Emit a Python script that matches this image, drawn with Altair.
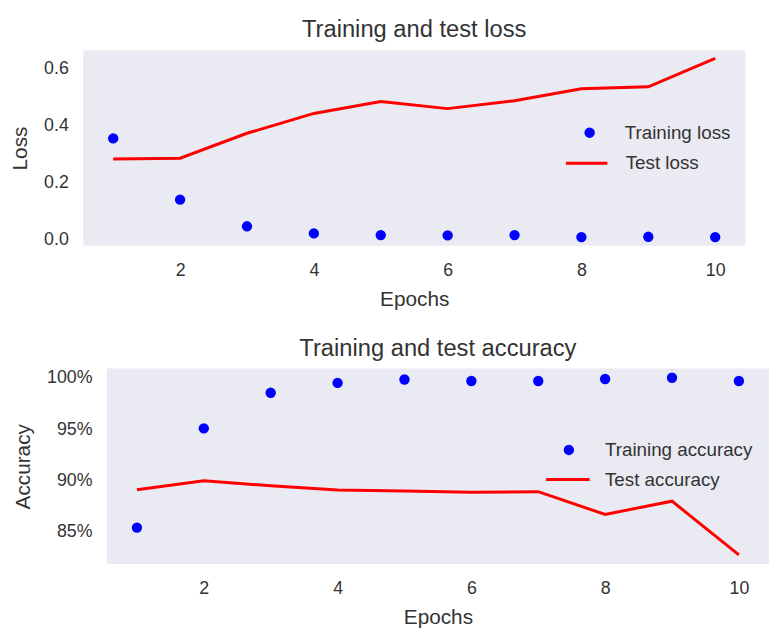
import altair as alt
import pandas as pd

# ---- data ----
epochs = [1, 2, 3, 4, 5, 6, 7, 8, 9, 10]
train_loss = [0.355, 0.139, 0.045, 0.020, 0.014, 0.013, 0.014, 0.007, 0.008, 0.007]
test_loss = [0.282, 0.285, 0.373, 0.443, 0.485, 0.460, 0.488, 0.530, 0.537, 0.637]
train_acc = [85.43, 95.08, 98.54, 99.50, 99.83, 99.69, 99.69, 99.88, 100.0, 99.69]
test_acc = [89.12, 89.98, 89.50, 89.09, 88.99, 88.87, 88.92, 86.71, 88.00, 82.77]
x_ticks = [2, 4, 6, 8, 10]
loss_ticks = [0.0, 0.2, 0.4, 0.6]
acc_ticks = [85, 90, 95, 100]
x_domain = [0.55, 10.45]
loss_domain = [-0.024, 0.666]
acc_domain = [81.88, 100.91]

TEXT = "#333333"
BG = "#eaeaf2"
FONT = "Liberation Sans"
BLUE = "#0000ff"
RED = "#ff0000"

VIEW_W = 694   # shared cell width
PLOT_W = 670   # width of the shaded plot area


def legend(x, y, offset, size, stype):
    return alt.Legend(
        title=None, orient="none", legendX=x, legendY=y, padding=0,
        labelOffset=offset, labelFontSize=19, labelFont=FONT, labelColor=TEXT,
        symbolSize=size, symbolType=stype, symbolStrokeWidth=3,
        symbolOpacity=1,
    )


def panel(train, test, train_name, test_name, title, ytitle, ydomain, yticks,
          label_expr, pt_leg, ln_leg, shift):
    df_train = pd.DataFrame({"epoch": epochs, "value": train, "series": train_name})
    df_test = pd.DataFrame({"epoch": epochs, "value": test, "series": test_name})
    df_bg = pd.DataFrame({"epoch": [x_domain[0]], "epoch2": [x_domain[1]],
                          "value": [ydomain[0]], "value2": [ydomain[1]]})

    x = alt.X(
        "epoch:Q",
        scale=alt.Scale(domain=x_domain, nice=False, zero=False,
                        range=[shift, shift + PLOT_W]),
        axis=alt.Axis(values=x_ticks, title="Epochs", grid=False, domain=False,
                      ticks=False, tickSize=0, labelPadding=16, titlePadding=9,
                      format="d", titleX=shift + PLOT_W / 2),
    )
    y = alt.Y(
        "value:Q",
        scale=alt.Scale(domain=ydomain, nice=False, zero=False),
        axis=alt.Axis(values=yticks, title=ytitle, grid=False, domain=False,
                      ticks=False, tickSize=0, labelPadding=15, titlePadding=13,
                      labelExpr=label_expr, offset=-shift),
    )
    fill = alt.Fill(
        "series:N",
        scale=alt.Scale(domain=[train_name], range=[BLUE]),
        legend=legend(pt_leg[0], pt_leg[1], pt_leg[2], 110, "circle"),
    )
    stroke = alt.Stroke(
        "series:N",
        scale=alt.Scale(domain=[test_name], range=[RED]),
        legend=legend(ln_leg[0], ln_leg[1], ln_leg[2], ln_leg[3], "stroke"),
    )
    bg = alt.Chart(df_bg).mark_rect(color=BG).encode(
        x=x, x2="epoch2:Q", y=y, y2="value2:Q")
    pts = alt.Chart(df_train).mark_circle(size=110, opacity=1, strokeWidth=0).encode(
        x=x, y=y, fill=fill)
    line = alt.Chart(df_test).mark_line(strokeWidth=3).encode(x=x, y=y, stroke=stroke)
    dx = shift + PLOT_W / 2 - VIEW_W / 2
    return alt.layer(bg, line, pts).properties(
        width=VIEW_W, height=198,
        title=alt.TitleParams(title, fontSize=24, font=FONT, color=TEXT,
                              fontWeight="normal", offset=8, dx=dx),
    )


top = panel(train_loss, test_loss, "Training loss", "Test loss",
            "Training and test loss", "Loss", loss_domain, loss_ticks,
            "format(datum.value, '.1f')", (503, 74, 26), (487, 92, 17, 1764), 0)
bottom = panel(train_acc, test_acc, "Training accuracy", "Test accuracy",
               "Training and test accuracy", "Accuracy", acc_domain, acc_ticks,
               "datum.value + '%'", (482, 73, 27), (467, 89, 14, 1936), 24)

chart = (
    alt.vconcat(top, bottom, spacing=28)
    .resolve_scale(fill="independent", stroke="independent")
    .properties(padding={"left": 1, "top": 7, "right": 0, "bottom": 0},
                background="white")
    .configure_view(fill=None, stroke=None)
    .configure_axis(labelFont=FONT, titleFont=FONT, labelFontSize=18,
                    titleFontSize=21, labelColor=TEXT, titleColor=TEXT,
                    titleFontWeight="normal")
)

chart.save("out.html", embed_options={"renderer": "svg", "actions": False})
